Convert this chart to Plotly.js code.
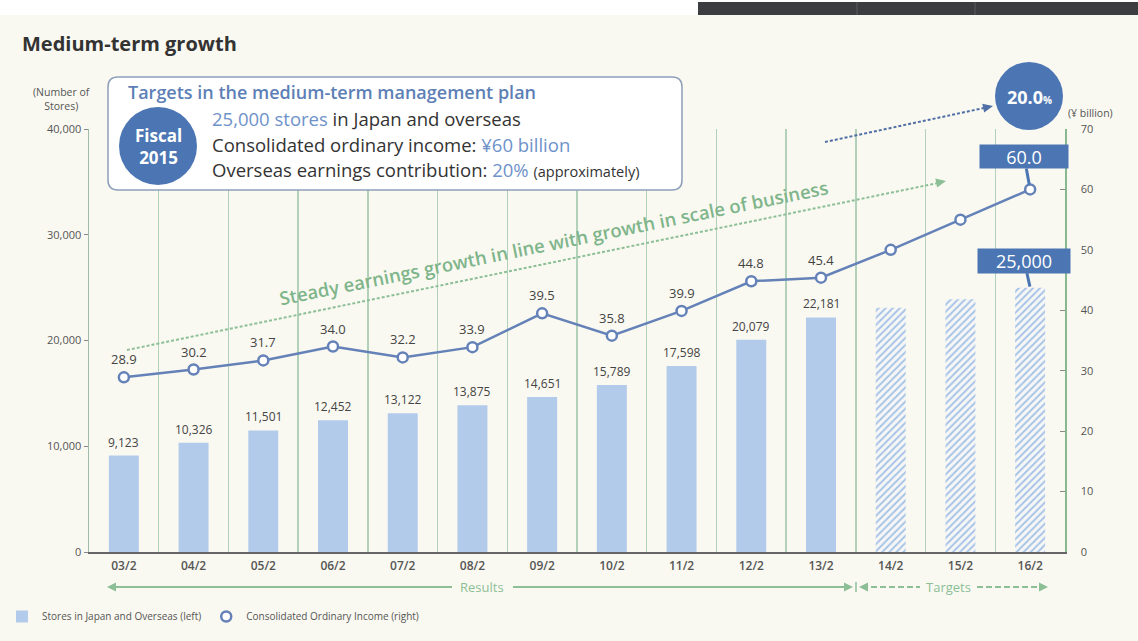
<!DOCTYPE html>
<html>
<head>
<meta charset="utf-8">
<script src="https://cdn.plot.ly/plotly-3.0.1.min.js"></script>
<style>html,body{margin:0;padding:0;background:#faf9f1;}#chart{width:1138px;height:641px;}</style>
</head>
<body>
<div id="chart"></div>
<script>
// ---- data ----
const categories = ['03/2','04/2','05/2','06/2','07/2','08/2','09/2','10/2','11/2','12/2','13/2','14/2','15/2','16/2'];
const stores = [9123,10326,11501,12452,13122,13875,14651,15789,17598,20079,22181,23100,23900,25000];
const income = [28.9,30.2,31.7,34.0,32.2,33.9,39.5,35.8,39.9,44.8,45.4,50.0,55.0,60.0];
const isTarget = [false,false,false,false,false,false,false,false,false,false,false,true,true,true];
const leftTicks = [0,10000,20000,30000,40000];
const rightTicks = [0,10,20,30,40,50,60,70];

// ---- geometry helpers (pixel -> paper) ----
const L = 89, R = 1065, T = 129, B = 552;
function px(x){ return (x - L) / (R - L); }
function py(y){ return (B - y) / (B - T); }
function P(x,y){ return px(x).toFixed(5) + ',' + py(y).toFixed(5); }
function roundRect(x0,y0,x1,y1,r){
  return 'M ' + P(x0+r,y0) + ' L ' + P(x1-r,y0) + ' Q ' + P(x1,y0) + ' ' + P(x1,y0+r) +
         ' L ' + P(x1,y1-r) + ' Q ' + P(x1,y1) + ' ' + P(x1-r,y1) +
         ' L ' + P(x0+r,y1) + ' Q ' + P(x0,y1) + ' ' + P(x0,y1-r) +
         ' L ' + P(x0,y0+r) + ' Q ' + P(x0,y0) + ' ' + P(x0+r,y0) + ' Z';
}
function arrowHead(tx,ty,fx,fy,len,half,color){
  const dx = tx - fx, dy = ty - fy, d = Math.hypot(dx,dy);
  const ux = dx/d, uy = dy/d, nx = -uy, ny = ux;
  const bx = tx - ux*len, by = ty - uy*len;
  return {type:'path', xref:'paper', yref:'paper', layer:'above',
    path:'M ' + P(tx,ty) + ' L ' + P(bx+nx*half, by+ny*half) + ' L ' + P(bx-nx*half, by-ny*half) + ' Z',
    fillcolor:color, line:{width:0}};
}
function pline(x0,y0,x1,y1,color,width,dash){
  return {type:'line', xref:'paper', yref:'paper', layer:'above',
    x0:px(x0), y0:py(y0), x1:px(x1), y1:py(y1), line:{color:color, width:width, dash:dash||'solid'}};
}
function circle(cx,cy,r,color){
  return {type:'circle', xref:'paper', yref:'paper', layer:'above',
    x0:px(cx-r), x1:px(cx+r), y0:py(cy+r), y1:py(cy-r), fillcolor:color, line:{width:0}};
}
function ptext(x,y,text,size,color,extra){
  return Object.assign({xref:'paper', yref:'paper', x:px(x), y:py(y), text:text, showarrow:false,
    font:{size:size, color:color}, xanchor:'center', yanchor:'middle'}, extra||{});
}

const FONT = '"Open Sans", "Noto Sans", "DejaVu Sans", sans-serif';
const BLUE = '#4b76b3', LINEC = '#6482b8', GREEN = '#8cbf96', HL = '#6e92c9';

// ---- traces ----
const barTrace = {
  type:'bar', x:categories, y:stores, yaxis:'y', width:0.43,
  name:'Stores in Japan and Overseas (left)',
  marker:{color:'#b3cbea', line:{width:0},
    pattern:{shape:isTarget.map(t => t ? '/' : ''), fillmode:'replace',
             fgcolor:'#a7c3e6', bgcolor:'#f6f7f6', size:5, solidity:0.38}},
  hoverinfo:'skip'
};
const lineTrace = {
  type:'scatter', mode:'lines', x:categories, y:income, yaxis:'y2',
  line:{color:LINEC, width:2.5}, showlegend:false, hoverinfo:'skip'
};
const markerTrace = {
  type:'scatter', mode:'markers', x:categories, y:income, yaxis:'y2',
  name:'Consolidated Ordinary Income (right)',
  marker:{symbol:'circle', size:10, color:'#ffffff', line:{color:LINEC, width:2.5}},
  hoverinfo:'skip'
};

// ---- annotations ----
const annotations = [];
categories.forEach((c,i) => {
  if (!isTarget[i]) {
    annotations.push({x:c, y:stores[i], xref:'x', yref:'y', text:stores[i].toLocaleString('en-US'),
      showarrow:false, yanchor:'bottom', yshift:3, font:{size:12, color:'#444'}});
    annotations.push({x:c, y:income[i], xref:'x', yref:'y2', text:income[i].toFixed(1),
      showarrow:false, yanchor:'bottom', yshift:7, font:{size:13, color:'#444'}});
  }
});
const last = categories.length - 1;
annotations.push({x:categories[last], y:income[last], xref:'x', yref:'y2', text:income[last].toFixed(1),
  showarrow:true, arrowhead:0, arrowwidth:3, arrowcolor:BLUE, ax:-6, ay:-33, standoff:5,
  bgcolor:BLUE, borderpad:3, width:82, height:17, font:{size:18, color:'#ffffff'}});
annotations.push({x:categories[last], y:stores[last], xref:'x', yref:'y', text:stores[last].toLocaleString('en-US'),
  showarrow:true, arrowhead:0, arrowwidth:3, arrowcolor:BLUE, ax:-6, ay:-27, standoff:1,
  bgcolor:BLUE, borderpad:3, width:86, height:18, font:{size:18, color:'#ffffff'}});

// text elements
annotations.push(ptext(62,99,'(Number of<br>Stores)',10.5,'#555'));
annotations.push(ptext(1090,113,'(¥ billion)',10.5,'#555'));
annotations.push(ptext(126,92,'Targets in the medium-term management plan',18,'#5d7fb6',{xanchor:'left', font:{size:18, color:'#5d7fb6', weight:600}}));
annotations.push(ptext(210,118.5,'<span style="color:'+HL+'">25,000 stores</span> in Japan and overseas',18.5,'#333',{xanchor:'left'}));
annotations.push(ptext(210,144,'Consolidated ordinary income: <span style="color:'+HL+'">¥60 billion</span>',18.5,'#333',{xanchor:'left'}));
annotations.push(ptext(210,169.5,'Overseas earnings contribution: <span style="color:'+HL+'">20%</span> <span style="font-size:14.5px">(approximately)</span>',18.5,'#333',{xanchor:'left'}));
annotations.push(ptext(158,147,'Fiscal<br>2015',17,'#ffffff',{font:{size:17, color:'#ffffff', weight:'bold'}}));
annotations.push(ptext(1029,97,'20.0<span style="font-size:10px">%</span>',18,'#ffffff',{font:{size:18, color:'#ffffff', weight:'bold'}}));
annotations.push(ptext(553,243,'Steady earnings growth in line with growth in scale of business',18.5,GREEN,{textangle:-11.5, font:{size:18.5, color:'#7fb58b', weight:600}}));
annotations.push(ptext(482,587,'Results',13,GREEN));
annotations.push(ptext(948,587,'Targets',13,GREEN));

// ---- shapes ----
const shapes = [
  // top white strip and dark bar
  {type:'rect', xref:'paper', yref:'paper', layer:'above', x0:px(0), x1:px(1138), y0:py(15), y1:py(0), fillcolor:'#ffffff', line:{width:0}},
  {type:'rect', xref:'paper', yref:'paper', layer:'above', x0:px(698), x1:px(1138), y0:py(15), y1:py(2), fillcolor:'#3b3d40', line:{width:0}},
  pline(857,2,857,15,'#5a5c60',1), pline(975,2,975,15,'#5a5c60',1),
  // plan box
  {type:'path', xref:'paper', yref:'paper', layer:'above', path:roundRect(108,77,682,190,10),
   fillcolor:'#ffffff', line:{color:'#8e9fba', width:1.5}},
  circle(158,146,39,BLUE),
  circle(1029,96,34,BLUE),
  // green trend arrow
  pline(127,350,938,183,GREEN,2,'3px,2px'),
  arrowHead(946,181,127,350,10,4.5,GREEN),
  // blue dotted arrow
  pline(825,142,984,108,'#4f6fa5',2,'3px,2px'),
  arrowHead(993,106,825,142,10,4.5,'#4f6fa5'),
  // Results arrow
  pline(110,587,452,587,GREEN,2), pline(513,587,850,587,GREEN,2),
  arrowHead(107,587,130,587,9,4.5,GREEN), arrowHead(853,587,830,587,9,4.5,GREEN),
  pline(856,582,856,592,GREEN,1.5),
  // Targets arrow
  arrowHead(859,587,880,587,9,4.5,GREEN),
  pline(862,587,920,587,GREEN,2,'6px,3px'), pline(977,587,1042,587,GREEN,2,'6px,3px'),
  arrowHead(1048,587,1025,587,9,4.5,GREEN)
];

const layout = {
  width:1138, height:641, autosize:false,
  margin:{l:L, r:1138-R, t:T, b:641-B, pad:0, autoexpand:false},
  paper_bgcolor:'#faf9f1', plot_bgcolor:'#faf9f1',
  font:{family:FONT, color:'#444'},
  title:{text:'Medium-term growth', xref:'container', yref:'container', x:22/1138, xanchor:'left',
         y:1-44/641, yanchor:'middle', font:{size:20, color:'#333', weight:'bold'}},
  showlegend:true,
  legend:{orientation:'h', xref:'container', yref:'container', x:2/1138, y:1-602/641, xanchor:'left', yanchor:'top',
          font:{size:10, color:'#555'}, bgcolor:'rgba(0,0,0,0)', itemwidth:30, tracegroupgap:0},
  bargap:0.57,
  xaxis:{type:'category', categoryorder:'array', categoryarray:categories, range:[-0.5,13.5],
         tickson:'boundaries', showgrid:true, gridcolor:'#b2d1b9', gridwidth:1.5, ticks:'',
         showline:true, linecolor:'#666', linewidth:1.5, zeroline:false, automargin:false,
         ticklabelstandoff:2, tickfont:{size:12, color:'#555', weight:600}, fixedrange:true},
  yaxis:{range:[0,40000], tickvals:leftTicks, tickformat:',', ticks:'outside', ticklen:4, tickcolor:'#888',
         showline:true, linecolor:'#a0bca6', linewidth:1.5, showgrid:false, zeroline:false, automargin:false,
         tickfont:{size:11, color:'#555'}, fixedrange:true},
  yaxis2:{overlaying:'y', side:'right', range:[0,70], tickvals:rightTicks, ticks:'inside', ticklen:5, tickcolor:'#888',
          showline:true, linecolor:'#86b990', linewidth:1.5, showgrid:false, zeroline:false, automargin:false,
          ticklabelstandoff:12, tickfont:{size:11, color:'#555'}, fixedrange:true},
  shapes:shapes,
  annotations:annotations
};

Plotly.newPlot('chart', [barTrace, lineTrace, markerTrace], layout, {displayModeBar:false, staticPlot:true});
</script>
</body>
</html>
